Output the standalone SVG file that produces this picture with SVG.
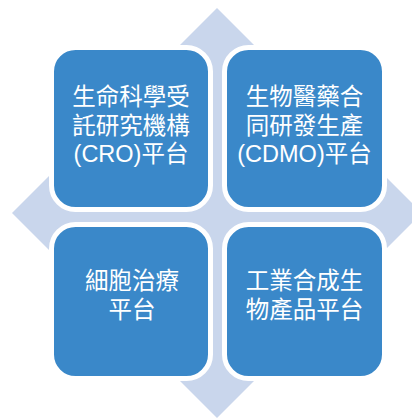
<svg xmlns="http://www.w3.org/2000/svg" width="412" height="419" viewBox="0 0 412 419">
<style>
.bg{fill:#c9d6ec}
.box{fill:#3a88c9;stroke:#ffffff;stroke-width:5}
.t{fill:#ffffff;font-family:"Liberation Sans","Noto Sans CJK TC",sans-serif;font-size:23.5px;text-anchor:middle}
</style>
<g id="background">
<polygon class="bg" points="217,8 422,213 217,418 12,213"/>
</g>
<g id="connectors"></g>
<g id="node-cro">
<rect class="box" x="51.5" y="47.5" width="159" height="162" rx="24"/>
<text class="t" x="131" y="105">生命科學受</text>
<text class="t" x="131" y="133.5">託研究機構</text>
<text class="t" x="131" y="162">(CRO)平台</text>
</g>
<g id="node-cdmo">
<rect class="box" x="224.5" y="47.5" width="160" height="162" rx="24"/>
<text class="t" x="304.5" y="105">生物醫藥合</text>
<text class="t" x="304.5" y="133.5">同研發生產</text>
<text class="t" x="304.5" y="162">(CDMO)平台</text>
</g>
<g id="node-cell">
<rect class="box" x="51.5" y="224.5" width="159" height="154" rx="24"/>
<text class="t" x="132" y="289">細胞治療</text>
<text class="t" x="132" y="317.5">平台</text>
</g>
<g id="node-industrial">
<rect class="box" x="224.5" y="224.5" width="160" height="154" rx="24"/>
<text class="t" x="304.5" y="289">工業合成生</text>
<text class="t" x="304.5" y="317.5">物產品平台</text>
</g>
</svg>
